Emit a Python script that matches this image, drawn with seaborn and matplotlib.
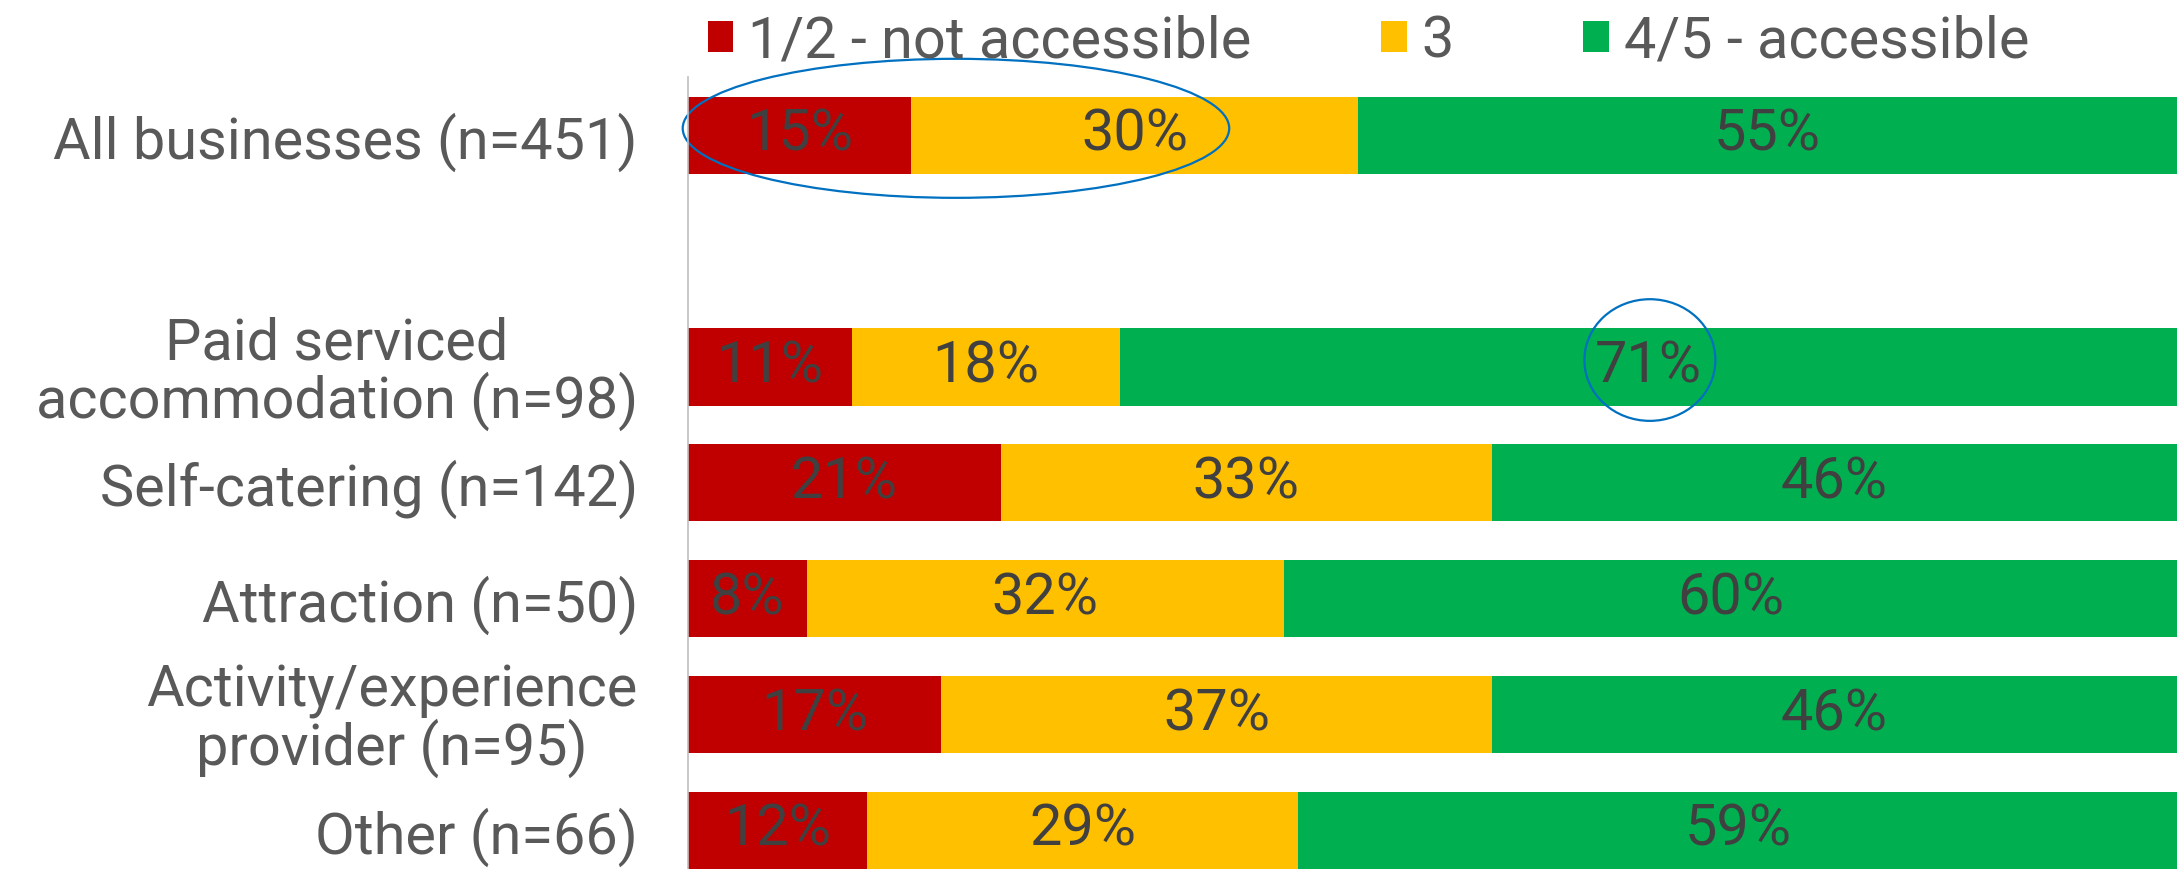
import matplotlib
matplotlib.use("Agg")
import matplotlib.pyplot as plt
from matplotlib.patches import Ellipse, Patch
import seaborn as sns
import pandas as pd

# Business types (the blank entry leaves a gap after the overall row)
categories = [
    "All businesses (n=451)",
    "",
    "Paid serviced\naccommodation (n=98)",
    "Self-catering (n=142)",
    "Attraction (n=50)",
    "Activity/experience\nprovider (n=95)",
    "Other (n=66)",
]
rated = [c for c in categories if c]

# Share of ratings per business type (%)
not_accessible = [15, 11, 21, 8, 17, 12]   # 1/2
neutral = [30, 18, 33, 32, 37, 29]         # 3
accessible = [55, 71, 46, 60, 46, 59]      # 4/5

series_names = ["1/2 - not accessible", "3", "4/5 - accessible"]
series_colors = ["#C00000", "#FFC000", "#00B050"]

FS = 41.5

sns.set_theme(style="white")
plt.rcParams["font.family"] = ["Roboto", "DejaVu Sans"]

df = pd.DataFrame({
    "category": rated,
    "red": not_accessible,
    "yellow": neutral,
    "green": accessible,
})
df["cum_red"] = df["red"]
df["cum_yellow"] = df["red"] + df["yellow"]
df["cum_green"] = df["red"] + df["yellow"] + df["green"]

fig = plt.figure(figsize=(21.77, 8.69), dpi=100)
ax = fig.add_axes([0.316, 0.0, 0.684, 0.911])

# Stacked bars drawn as overlapping cumulative totals
for col, color in zip(["cum_green", "cum_yellow", "cum_red"], series_colors[::-1]):
    sns.barplot(data=df, y="category", x=col, order=categories, color=color,
                width=0.667, orient="h", ax=ax, saturation=1,
                edgecolor="none", linewidth=0)

ax.set_xlim(0, 100)
ax.set_ylim(6.333, -0.5)
ax.set_xlabel("")
ax.set_ylabel("")
ax.set_xticks([])

for s in ["top", "right", "bottom"]:
    ax.spines[s].set_visible(False)
ax.spines["left"].set_color("#BFBFBF")
ax.spines["left"].set_linewidth(1.2)

ax.tick_params(axis="y", length=0, pad=36, labelsize=FS, labelcolor="#595959")
for lbl in ax.get_yticklabels():
    lbl.set_multialignment("center")
    lbl.set_linespacing(1.0)

# Segment value labels
positions = [categories.index(c) for c in rated]
for i, y in enumerate(positions):
    r, yv, g = not_accessible[i], neutral[i], accessible[i]
    for start, val in [(0, r), (r, yv), (r + yv, g)]:
        ax.text(start + val / 2, y, f"{val}%", ha="center", va="center",
                fontsize=FS, color="#404040")

# Highlight rings
ax.add_patch(Ellipse((18.0, -0.06), 36.7, 1.20, fill=False,
                     edgecolor="#0070C0", linewidth=1.6, clip_on=False))
ax.add_patch(Ellipse((64.6, 1.94), 8.8, 1.05, fill=False,
                     edgecolor="#0070C0", linewidth=1.6, clip_on=False))

handles = [Patch(facecolor=c, edgecolor="none") for c in series_colors]
fig.legend(handles, series_names, loc="center left",
           bbox_to_anchor=(0.325, 0.952), ncol=3, frameon=False,
           fontsize=FS, labelcolor="#595959", handlelength=0.45,
           handleheight=0.45, handletextpad=0.25, columnspacing=2.25,
           borderpad=0, borderaxespad=0)

fig.savefig("out.png", dpi=100)
